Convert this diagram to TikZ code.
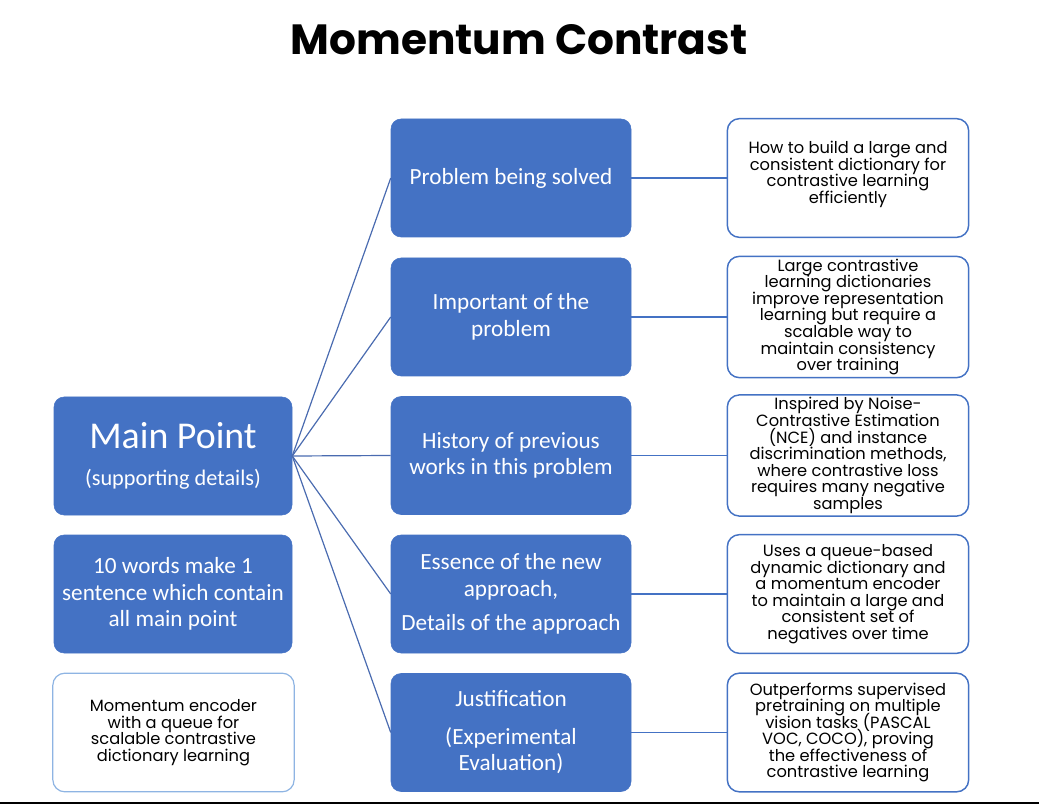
\documentclass[tikz,border=0pt]{standalone}
\usepackage{fontspec}
\setmainfont{Poppins}
\newfontfamily\calibri{Carlito}
\definecolor{boxblue}{HTML}{4472C4}
\definecolor{lineblue}{HTML}{4A6BB0}
\definecolor{paleblue}{HTML}{8EB4E3}
\newcommand\detailfont{\fontsize{12.2}{12.4}\selectfont\lineskiplimit=-20pt\relax\lineskip=0pt\relax}
\begin{document}
\begin{tikzpicture}[x=0.75pt,y=-0.75pt,
    topic/.style={rectangle,rounded corners=7.5pt,fill=boxblue,draw=boxblue,text=white,
      align=center,minimum width=180pt,minimum height=88.5pt,font=\calibri\fontsize{17.4}{20}\selectfont},
    detail/.style={rectangle,rounded corners=9pt,fill=white,draw=boxblue,line width=1.1pt,
      align=center,minimum width=181pt,minimum height=89pt,inner sep=2pt,font=\detailfont},
    link/.style={lineblue,line width=0.9pt},
    branch/.style={boxblue,line width=1.4pt}]
    \useasboundingbox (0,0) rectangle (1039,805);
    \node (title) at (519,40) {\fontsize{31.7}{38}\selectfont\bfseries Momentum Contrast};
    \node[topic,minimum width=178.5pt] (main) at (173,456) {{\fontsize{28.4}{32}\selectfont Main Point}\\[8pt]{\fontsize{16.7}{20}\selectfont(supporting details)}};
    \node[topic,minimum width=178.5pt] (summary) at (173,594) {10 words make 1\\sentence which contain\\all main point};
    \node[detail,draw=paleblue,line width=0.9pt] (note) at (173.5,732.5) {Momentum encoder\\with a queue for\\scalable contrastive\\dictionary learning};
    \node[topic] (m1) at (511,178) {Problem being solved};
    \node[topic] (m2) at (511,317) {Important of the\\problem};
    \node[topic] (m3) at (511,455.5) {History of previous\\works in this problem};
    \node[topic] (m4) at (511,594) {Essence of the new\\approach,\\[6pt]Details of the approach};
    \node[topic] (m5) at (511,732.5) {Justification\\[8pt](Experimental\\Evaluation)};
    \node[detail] (d1) at (848,178) {How to build a large and\\consistent dictionary for\\contrastive learning\\efficiently\\[-4pt]};
    \node[detail] (d2) at (848,317) {Large contrastive\\learning dictionaries\\improve representation\\learning but require a\\scalable way to\\maintain consistency\\over training};
    \node[detail] (d3) at (848,455.5) {Inspired by Noise-\\Contrastive Estimation\\(NCE) and instance\\discrimination methods,\\where contrastive loss\\requires many negative\\samples};
    \node[detail] (d4) at (848,594) {Uses a queue-based\\dynamic dictionary and\\a momentum encoder\\to maintain a large and\\consistent set of\\negatives over time};
    \node[detail] (d5) at (848,732.5) {Outperforms supervised\\pretraining on multiple\\vision tasks (PASCAL\\VOC, COCO), proving\\the effectiveness of\\contrastive learning};
    \foreach \i in {1,...,5}{
        \draw[link] (main.east) -- (m\i.west);
        \draw[branch] (m\i.east) -- (d\i.west);
    }
    \draw[line width=1.1pt] (0,803) -- (1039,803);
\end{tikzpicture}
\end{document}
